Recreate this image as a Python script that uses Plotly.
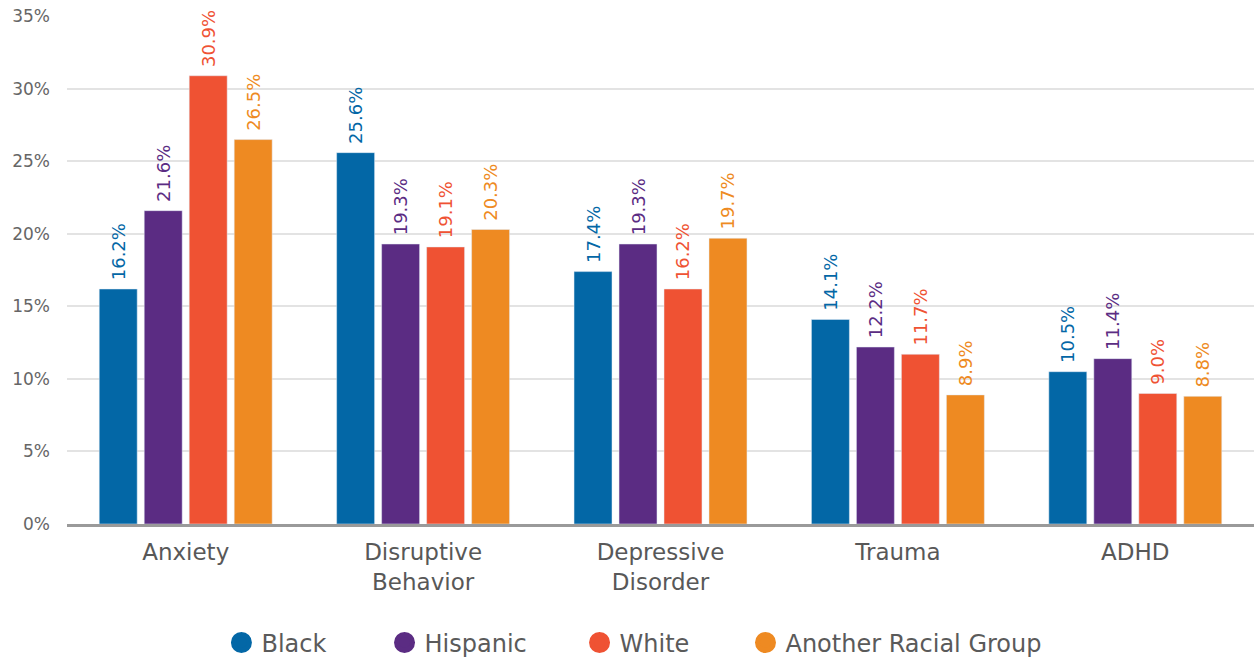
import plotly.graph_objects as go

categories = ["Anxiety", "Disruptive<br>Behavior", "Depressive<br>Disorder", "Trauma", "ADHD"]
series_names = ["Black", "Hispanic", "White", "Another Racial Group"]
black = [16.2, 25.6, 17.4, 14.1, 10.5]
hispanic = [21.6, 19.3, 19.3, 12.2, 11.4]
white = [30.9, 19.1, 16.2, 11.7, 9.0]
another = [26.5, 20.3, 19.7, 8.9, 8.8]
tick_vals = [0, 5, 10, 15, 20, 25, 30, 35]
tick_text = ["0%", "5%", "10%", "15%", "20%", "25%", "30%", "35%"]

colors = ["#0367A6", "#5B2C83", "#EF5233", "#EE8A22"]
FONT = "DejaVu Sans"
legend_x = [0.1301, 0.2675, 0.4318, 0.5716]

fig = go.Figure()
for name, vals, c in zip(series_names, [black, hispanic, white, another], colors):
    fig.add_trace(go.Bar(
        x=categories, y=vals, name=name, marker_color=c,
        text=[f" {v:.1f}%" for v in vals], textposition="outside",
        textangle=-90, textfont=dict(color=c, size=18, family=FONT),
        constraintext="none", cliponaxis=False, showlegend=False,
    ))

leg_layout = {}
for i, (name, c) in enumerate(zip(series_names, colors)):
    lname = "legend" if i == 0 else f"legend{i+1}"
    fig.add_trace(go.Scatter(
        x=[None], y=[None], mode="markers", name=name, legend=lname,
        marker=dict(color=c, size=22, symbol="circle", line=dict(color=c, width=5)),
    ))
    leg_layout[lname] = dict(
        orientation="h", x=legend_x[i], xanchor="left", y=-0.234, yanchor="middle",
        font=dict(size=24, color="#5a5a5a", family=FONT), itemsizing="trace",
        bgcolor="rgba(0,0,0,0)", borderwidth=0,
    )

fig.update_layout(
    width=1257, height=658,
    margin=dict(l=67, r=3, t=16, b=134, autoexpand=False),
    plot_bgcolor="white", paper_bgcolor="white",
    barmode="group", bargap=0.242, bargroupgap=0.156,
    font=dict(family=FONT, color="#555555"),
    showlegend=True,
    **leg_layout,
)
fig.update_xaxes(showline=True, linecolor="#9a9a9a", linewidth=2.5,
                 tickfont=dict(size=23, color="#585858"), ticks="", showgrid=False,
                 automargin=False, ticklabelstandoff=6)
fig.update_yaxes(range=[0, 35.02], tickvals=tick_vals, ticktext=tick_text,
                 showgrid=True, gridcolor="#e3e3e3", gridwidth=1.5, zeroline=False,
                 tickfont=dict(size=17, color="#666666"), ticks="", ticklabelstandoff=16,
                 automargin=False)

fig.write_html("out.html")
